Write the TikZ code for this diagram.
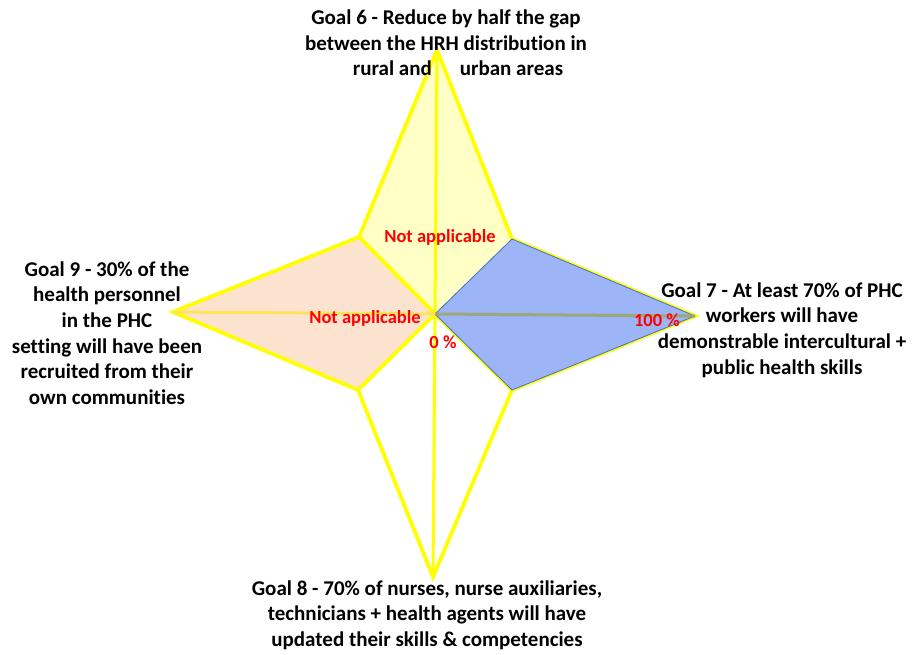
\documentclass[tikz,border=0pt]{standalone}
\usepackage{fontspec}
\setmainfont{Carlito}[Ligatures=NoCommon]
\definecolor{starY}{HTML}{FFFF00}
\definecolor{fillY}{HTML}{FFFFC6}
\definecolor{fillP}{HTML}{FCE3CF}
\definecolor{fillB}{HTML}{9DB4F6}
\definecolor{edgeB}{HTML}{4472C4}
\definecolor{axisO}{HTML}{9CA878}
\definecolor{axisL}{HTML}{FFE35A}
\definecolor{redT}{HTML}{FF0000}
\begin{document}
\begin{tikzpicture}[x=1pt,y=-1pt,
  starline/.style={draw=starY,line width=3.8pt,line join=miter},
  goal/.style={font=\bfseries\fontsize{21}{25.6}\selectfont,align=center,inner sep=0pt},
  redlabel/.style={text=redT,font=\bfseries\fontsize{18.5}{20}\selectfont,inner sep=0pt}]
\useasboundingbox (0,0) rectangle (912,654);
% key points
\coordinate (C) at (435,314);
\coordinate (T) at (437,50);
\coordinate (B) at (433,577);
\coordinate (R) at (695,316);
\coordinate (L) at (173,312);
\coordinate (UR) at (512,239);
\coordinate (LR) at (512,390);
\coordinate (LL) at (358,390);
\coordinate (UL) at (359,237);
% fills
\fill[fillY] (C) -- (UL) -- (T) -- (UR) -- cycle;
\fill[fillP] (C) -- (UL) -- (L) -- (LL) -- cycle;
\draw[fillP!70!orange,line width=0.6pt] (UL) -- (L) -- (LL);
% star outline and inner edges
\draw[starline] (T) -- (UR) -- (R) -- (LR) -- (B) -- (LL) -- (L) -- (UL) -- cycle;
\draw[starline] (UL) -- (C) -- (LL);
\draw[starline] (C) -- (LR);
% vertical axis
\draw[draw=starY,line width=3pt] (T) -- (B);
% blue series
\filldraw[fill=fillB,draw=edgeB,line width=0.8pt,line join=round] (C) -- (UR) -- (R) -- (LR) -- cycle;
% horizontal axis
\draw[axisL,line width=3pt] (L) -- (C);
\draw[axisO,line width=3pt] (C) -- (R);
% red labels
\node[redlabel] (na1) at (440,237) {Not applicable};
\node[redlabel] (na2) at (365,318) {Not applicable};
\node[redlabel] (zero) at (443,342) {0 \%};
\node[redlabel] (hundred) at (657,320) {100 \%};
% goal labels
\node[goal] (g6) at (446,43) {Goal 6 - Reduce by half the gap\\between the HRH distribution in\\\hspace*{24pt}rural and\hspace{28pt}urban areas};
\node[goal] (g7) at (782,330) {Goal 7 - At least 70\% of PHC\\workers will have\\demonstrable intercultural +\\public health skills};
\node[goal] (g8) at (427,615) {Goal 8 - 70\% of nurses, nurse auxiliaries,\\technicians + health agents will have\\updated their skills \& competencies};
\node[goal] (g9) at (107,333) {Goal 9 - 30\% of the\\health personnel\\in the PHC\\setting will have been\\recruited from their\\own communities};
\end{tikzpicture}
\end{document}
